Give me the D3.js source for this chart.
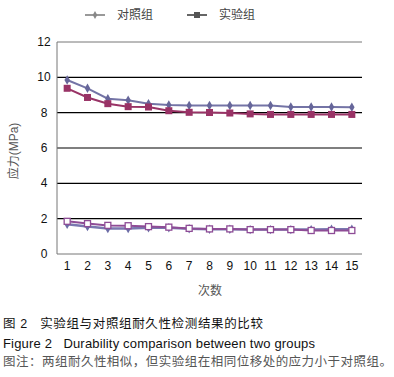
<!DOCTYPE html>
<html>
<head>
<meta charset="utf-8">
<script src="https://cdn.jsdelivr.net/npm/d3@7"></script>
<style>
  body { margin: 0; background: #fff; }
  text { font-family: "Liberation Sans", Arial, "Noto Sans CJK SC", sans-serif; }
</style>
</head>
<body>
<svg id="chart" width="394" height="377"></svg>
<script>
// data
const times = [1, 2, 3, 4, 5, 6, 7, 8, 9, 10, 11, 12, 13, 14, 15];
const controlHigh = [9.85, 9.38, 8.79, 8.70, 8.51, 8.43, 8.40, 8.40, 8.40, 8.40, 8.40, 8.32, 8.32, 8.32, 8.30];
const expHigh = [9.38, 8.86, 8.51, 8.34, 8.32, 8.11, 8.02, 8.01, 7.98, 7.93, 7.90, 7.90, 7.90, 7.90, 7.90];
const controlLow = [1.68, 1.55, 1.45, 1.45, 1.48, 1.48, 1.43, 1.40, 1.40, 1.38, 1.38, 1.38, 1.38, 1.40, 1.40];
const expLow = [1.85, 1.72, 1.62, 1.60, 1.55, 1.52, 1.45, 1.42, 1.42, 1.38, 1.38, 1.38, 1.33, 1.33, 1.33];
const yTicks = [0, 2, 4, 6, 8, 10, 12];
const legendNames = ["对照组", "实验组"];

const svg = d3.select("#chart");
const xScale = d3.scaleBand().domain(times).range([57, 362]);
const yScale = d3.scaleLinear().domain([0, 12]).range([254, 42]);
const cx = d => xScale(d) + xScale.bandwidth() / 2;

// grid lines
svg.append("g")
  .selectAll("line")
  .data(yTicks.filter(t => t > 0 && t < 12))
  .enter()
  .append("line")
  .attr("x1", 57).attr("x2", 362)
  .attr("y1", d => yScale(d)).attr("y2", d => yScale(d))
  .attr("stroke", "#000").attr("stroke-width", 1.2);

// top line and x axis in gray
[12, 0].forEach(t => {
  svg.append("line")
    .attr("x1", 57).attr("x2", 362)
    .attr("y1", yScale(t)).attr("y2", yScale(t))
    .attr("stroke", "#777").attr("stroke-width", 1);
});

// y axis
svg.append("line")
  .attr("x1", 57).attr("x2", 57)
  .attr("y1", yScale(12)).attr("y2", yScale(0))
  .attr("stroke", "#777");

svg.append("g")
  .selectAll("text")
  .data(yTicks)
  .enter()
  .append("text")
  .attr("x", 44).attr("y", d => yScale(d) + 4)
  .attr("text-anchor", "middle")
  .attr("font-size", 12).attr("fill", "#111")
  .text(d => d);

svg.append("g")
  .selectAll("text")
  .data(times)
  .enter()
  .append("text")
  .attr("x", d => cx(d)).attr("y", 270)
  .attr("text-anchor", "middle")
  .attr("font-size", 12).attr("fill", "#111")
  .text(d => d);

// axis titles
svg.append("text")
  .attr("transform", "translate(18,151) rotate(-90)")
  .attr("text-anchor", "middle")
  .attr("font-size", 12).attr("fill", "#555")
  .text("应力(MPa)");

svg.append("text")
  .attr("x", 210).attr("y", 295)
  .attr("text-anchor", "middle")
  .attr("font-size", 12).attr("fill", "#555")
  .text("次数");

const line = d3.line()
  .x((d, i) => cx(times[i]))
  .y(d => yScale(d));

function drawSeries(vals, color, width, marker, fill) {
  svg.append("path")
    .datum(vals)
    .attr("d", line)
    .attr("fill", "none")
    .attr("stroke", color)
    .attr("stroke-width", width);
  const g = svg.append("g");
  if (marker === "diamond") {
    g.selectAll("path")
      .data(vals)
      .enter()
      .append("path")
      .attr("d", d3.symbol(d3.symbolDiamond, 26))
      .attr("transform", (d, i) => `translate(${cx(times[i])},${yScale(d)})`)
      .attr("fill", fill);
  } else {
    const s = fill === "#fff" ? 6 : 7;
    g.selectAll("rect")
      .data(vals)
      .enter()
      .append("rect")
      .attr("x", (d, i) => cx(times[i]) - s / 2)
      .attr("y", d => yScale(d) - s / 2)
      .attr("width", s).attr("height", s)
      .attr("fill", fill)
      .attr("stroke", color).attr("stroke-width", fill === "#fff" ? 1.3 : 0);
  }
}

drawSeries(controlHigh, "#7474a6", 2, "diamond", "#66669a");
drawSeries(expHigh, "#993366", 2, "square", "#993366");
drawSeries(controlLow, "#7a78b0", 2.5, "diamond", "#6c6ca6");
drawSeries(expLow, "#8e4c96", 2, "square", "#fff");

// legend
const legend = svg.append("g");
const legendX = [85, 187];
legend.selectAll("line")
  .data(legendNames)
  .enter()
  .append("line")
  .attr("x1", (d, i) => legendX[i]).attr("x2", (d, i) => legendX[i] + 20)
  .attr("y1", 15).attr("y2", 15)
  .attr("stroke", (d, i) => i === 0 ? "#999" : "#666")
  .attr("stroke-width", 2);
legend.append("path")
  .attr("d", d3.symbol(d3.symbolDiamond, 18))
  .attr("transform", `translate(${legendX[0] + 10},15)`)
  .attr("fill", "#888");
legend.append("rect")
  .attr("x", legendX[1] + 7).attr("y", 12)
  .attr("width", 6).attr("height", 6)
  .attr("fill", "#555");
legend.selectAll("text")
  .data(legendNames)
  .enter()
  .append("text")
  .attr("x", (d, i) => legendX[i] + 32).attr("y", 19)
  .attr("font-size", 12).attr("fill", "#444")
  .text(d => d);

// caption
svg.append("text")
  .attr("x", 3).attr("y", 328)
  .attr("font-size", 12.5).attr("fill", "#111")
  .attr("xml:space", "preserve")
  .attr("textLength", 260).attr("lengthAdjust", "spacing")
  .text("图 2   实验组与对照组耐久性检测结果的比较");
svg.append("text")
  .attr("x", 3).attr("y", 348)
  .attr("font-size", 13).attr("fill", "#111")
  .attr("xml:space", "preserve")
  .attr("textLength", 312).attr("lengthAdjust", "spacing")
  .text("Figure 2   Durability comparison between two groups");
svg.append("text")
  .attr("x", 3).attr("y", 366)
  .attr("font-size", 12.5).attr("fill", "#555")
  .attr("textLength", 389).attr("lengthAdjust", "spacing")
  .text("图注：两组耐久性相似，但实验组在相同位移处的应力小于对照组。");
</script>
</body>
</html>
